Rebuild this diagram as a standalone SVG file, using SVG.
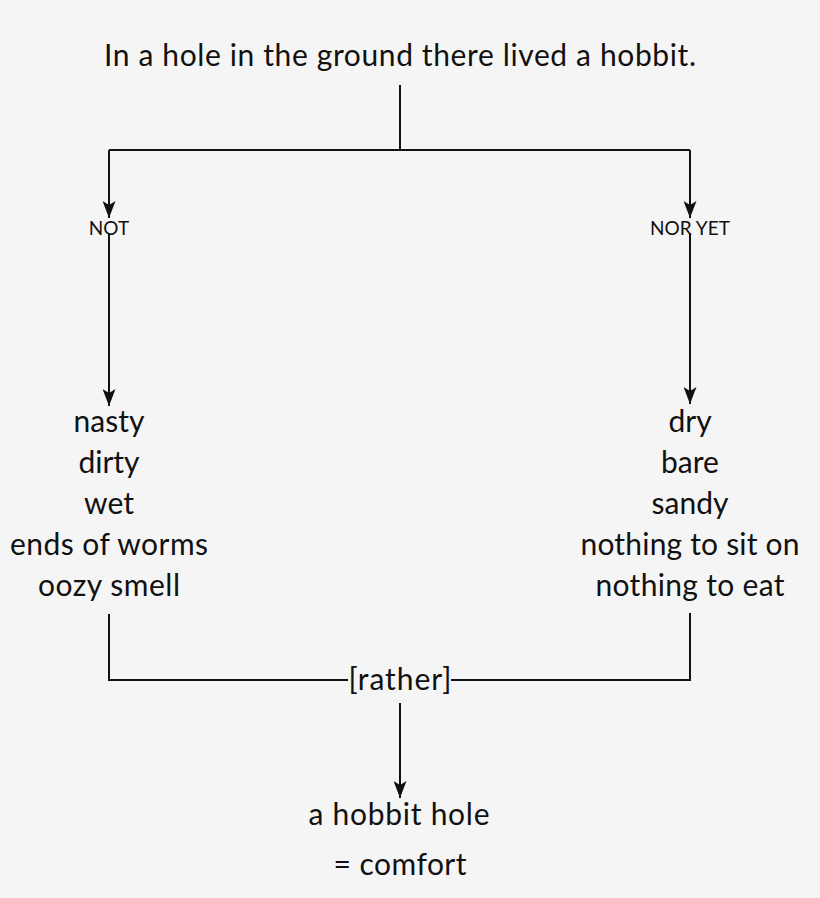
<svg xmlns="http://www.w3.org/2000/svg" width="820" height="898" viewBox="0 0 820 898">
<style>
.t{font-family:Lato,"Open Sans","DejaVu Sans",sans-serif;font-size:30px;fill:#111;text-anchor:middle}
.s{font-family:Lato,"Open Sans","DejaVu Sans",sans-serif;font-size:19px;fill:#111;text-anchor:middle}
.c{fill:none;stroke:#111;stroke-width:2}
</style>
<defs>
<marker id="ah" markerUnits="userSpaceOnUse" markerWidth="17" markerHeight="13" viewBox="0 0 17 13" refX="17" refY="6.5" orient="auto">
<path d="M0,0 L17,6.5 L0,13 L4,6.5 Z" fill="#111"/>
</marker>
</defs>
<rect width="820" height="898" fill="#f5f5f5"/>
<g id="connectors">
<path class="c" d="M400,85 V150 M109,150 H690"/>
<path class="c" d="M109,150 V218" marker-end="url(#ah)"/>
<path class="c" d="M109,233 V406" marker-end="url(#ah)"/>
<path class="c" d="M690,150 V218" marker-end="url(#ah)"/>
<path class="c" d="M690,233 V404" marker-end="url(#ah)"/>
<path class="c" d="M109,614 V680 H348 M451,680 H690 V613"/>
<path class="c" d="M400,703 V798" marker-end="url(#ah)"/>
</g>
<g id="top"><text class="t" x="400" y="66" textLength="592">In a hole in the ground there lived a hobbit.</text></g>
<g id="not"><text class="s" x="109" y="235">NOT</text></g>
<g id="noryet"><text class="s" x="690" y="235">NOR YET</text></g>
<g id="left">
<text class="t" x="109" y="432">nasty</text>
<text class="t" x="109" y="473">dirty</text>
<text class="t" x="109" y="514">wet</text>
<text class="t" x="109" y="555" textLength="198">ends of worms</text>
<text class="t" x="109" y="596" textLength="142">oozy smell</text>
</g>
<g id="right">
<text class="t" x="690" y="432">dry</text>
<text class="t" x="690" y="473">bare</text>
<text class="t" x="690" y="514">sandy</text>
<text class="t" x="690" y="555" textLength="219">nothing to sit on</text>
<text class="t" x="690" y="596" textLength="189">nothing to eat</text>
</g>
<g id="rather"><text class="t" x="400" y="690" textLength="103">[rather]</text></g>
<g id="bottom">
<text class="t" x="399" y="825" textLength="181">a hobbit hole</text>
<text class="t" x="400" y="875" textLength="133">= comfort</text>
</g>
</svg>
